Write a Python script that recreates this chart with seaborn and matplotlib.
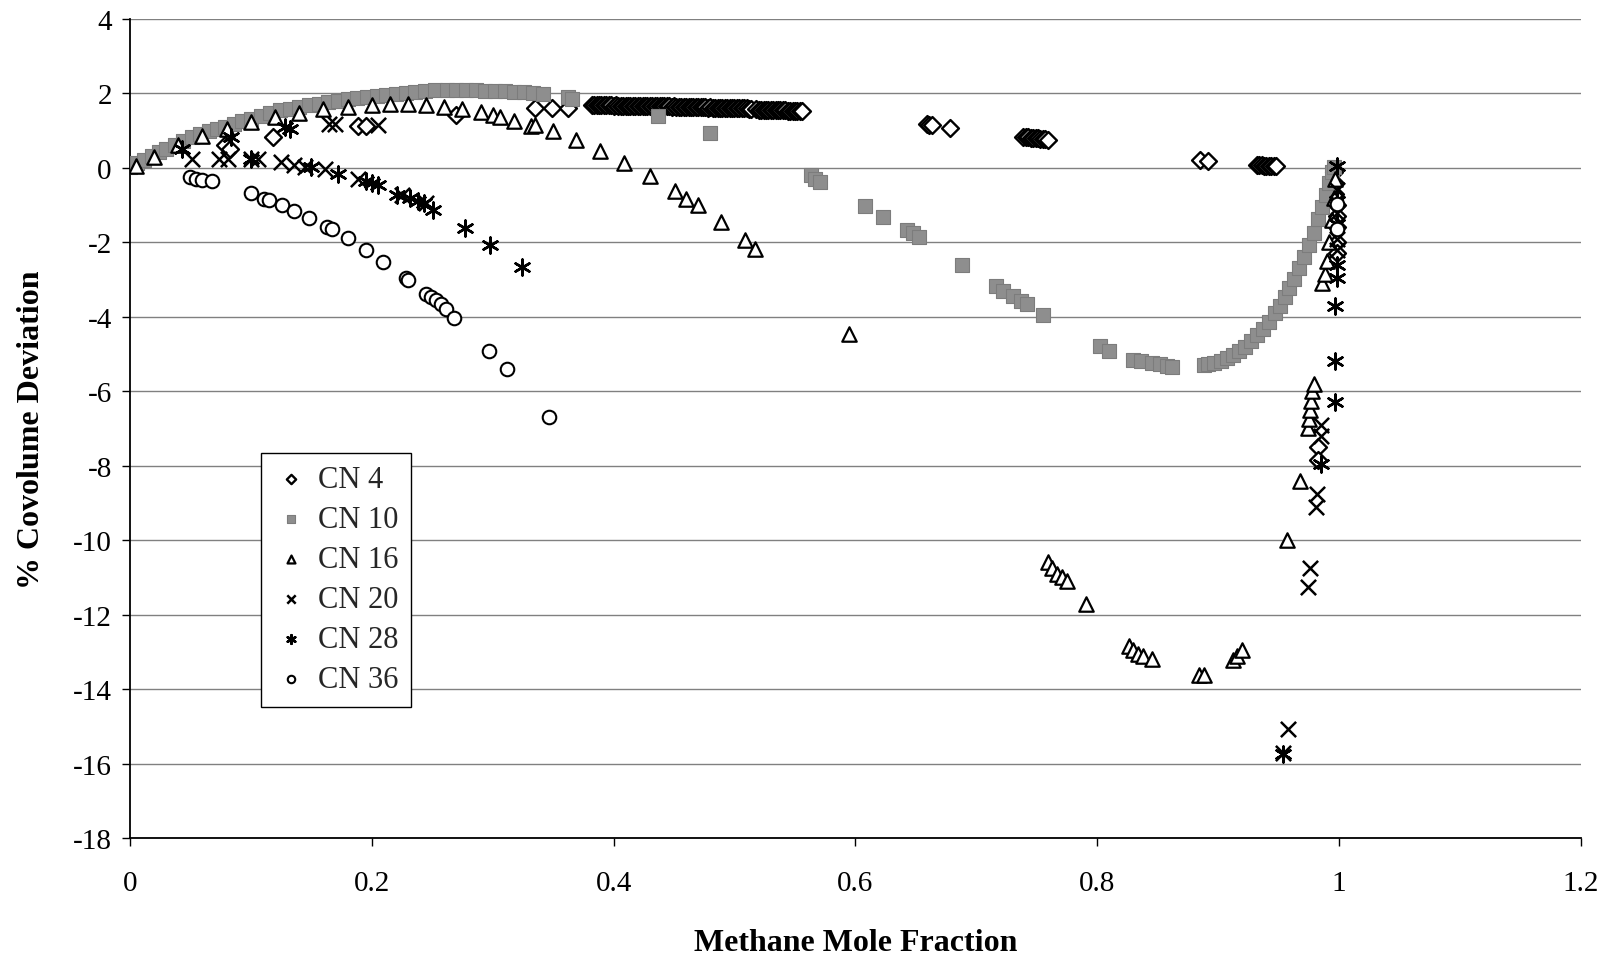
import numpy as np
import pandas as pd
import matplotlib
matplotlib.use("Agg")
import matplotlib.pyplot as plt
import seaborn as sns

# ---- data: methane mole fraction vs % covolume deviation ----
cn4_x = [0.079, 0.083, 0.118, 0.189, 0.195, 0.270, 0.335, 0.349, 0.362,
         0.382, 0.384, 0.386, 0.388, 0.390, 0.392, 0.394, 0.396, 0.398, 0.400,
         0.402, 0.404, 0.406, 0.408, 0.410, 0.412, 0.414, 0.416, 0.418, 0.420,
         0.422, 0.424, 0.426, 0.428, 0.430, 0.432, 0.434, 0.436, 0.438, 0.440,
         0.442, 0.444, 0.446, 0.448, 0.450, 0.452, 0.454, 0.456, 0.458, 0.460,
         0.462, 0.464, 0.466, 0.468, 0.470, 0.472, 0.474, 0.476, 0.478, 0.480,
         0.482, 0.484, 0.486, 0.488, 0.490, 0.492, 0.494, 0.496, 0.498, 0.500,
         0.502, 0.504, 0.506, 0.508, 0.510, 0.512, 0.514,
         0.518, 0.520, 0.522, 0.524, 0.526, 0.528, 0.530, 0.532, 0.534, 0.536,
         0.538, 0.540, 0.542, 0.544, 0.546, 0.548, 0.550, 0.552, 0.554, 0.556,
         0.659, 0.661, 0.663, 0.678,
         0.739, 0.741, 0.743, 0.745, 0.747, 0.749, 0.751, 0.753, 0.755, 0.757, 0.759,
         0.885, 0.892,
         0.932, 0.934, 0.936, 0.938, 0.940, 0.942, 0.944, 0.946, 0.948,
         0.996, 0.997, 0.997, 0.998, 0.998, 0.998, 0.998, 0.998, 0.983, 0.983]
cn4_y = [0.60, 0.50, 0.82, 1.12, 1.12, 1.42, 1.60, 1.62, 1.62,
         1.68, 1.68, 1.68, 1.69, 1.68, 1.68, 1.68, 1.68, 1.68, 1.67,
         1.68, 1.67, 1.67, 1.67, 1.67, 1.67, 1.67, 1.66, 1.67, 1.66,
         1.66, 1.66, 1.66, 1.66, 1.66, 1.65, 1.66, 1.65, 1.65, 1.65,
         1.65, 1.65, 1.65, 1.64, 1.65, 1.64, 1.64, 1.64, 1.64, 1.64,
         1.64, 1.63, 1.64, 1.63, 1.63, 1.63, 1.63, 1.63, 1.62, 1.63,
         1.62, 1.62, 1.62, 1.62, 1.62, 1.61, 1.62, 1.61, 1.61, 1.61,
         1.61, 1.60, 1.61, 1.60, 1.60, 1.59, 1.59,
         1.57, 1.56, 1.56, 1.56, 1.55, 1.55, 1.55, 1.55, 1.54, 1.54,
         1.54, 1.54, 1.54, 1.53, 1.53, 1.53, 1.53, 1.52, 1.52, 1.52,
         1.17, 1.16, 1.15, 1.07,
         0.84, 0.83, 0.82, 0.81, 0.80, 0.80, 0.79, 0.78, 0.77, 0.77, 0.76,
         0.20, 0.19,
         0.08, 0.07, 0.07, 0.06, 0.06, 0.05, 0.05, 0.04, 0.04,
         -0.10, -0.40, -0.70, -1.00, -1.30, -1.60, -2.00, -2.30, -7.50, -7.85]

cn10_x = [0.000, 0.006, 0.012, 0.018, 0.024, 0.030, 0.037, 0.044, 0.051, 0.058,
          0.065, 0.072, 0.079, 0.086, 0.093, 0.100, 0.108, 0.116, 0.124, 0.132,
          0.140, 0.148, 0.156, 0.164, 0.172, 0.180, 0.188, 0.196, 0.204, 0.212,
          0.220, 0.228, 0.236, 0.244, 0.252, 0.262, 0.270, 0.278, 0.286, 0.294,
          0.302, 0.310, 0.318, 0.326, 0.333, 0.342, 0.362, 0.366, 0.437, 0.480,
          0.563, 0.567, 0.571, 0.608, 0.623, 0.643, 0.648, 0.653, 0.688, 0.716,
          0.722, 0.730, 0.737, 0.742, 0.755, 0.802, 0.810, 0.830, 0.836, 0.845,
          0.852, 0.858, 0.862,
          0.888, 0.892, 0.897, 0.902, 0.907, 0.912, 0.917, 0.922, 0.927, 0.932,
          0.937, 0.942, 0.947, 0.951, 0.955, 0.959, 0.963, 0.967, 0.971, 0.975,
          0.979, 0.983, 0.986, 0.989, 0.992, 0.994, 0.996]
cn10_y = [0.02, 0.12, 0.22, 0.32, 0.42, 0.51, 0.62, 0.72, 0.82, 0.90,
          0.98, 1.05, 1.11, 1.18, 1.25, 1.32, 1.40, 1.47, 1.54, 1.59,
          1.64, 1.68, 1.72, 1.76, 1.80, 1.84, 1.88, 1.91, 1.94, 1.96,
          1.99, 2.01, 2.04, 2.06, 2.08, 2.08, 2.08, 2.08, 2.08, 2.07,
          2.07, 2.06, 2.05, 2.04, 2.02, 1.98, 1.90, 1.85, 1.40, 0.93,
          -0.20, -0.30, -0.38, -1.02, -1.31, -1.68, -1.76, -1.85, -2.60, -3.18,
          -3.30, -3.45, -3.58, -3.66, -3.95, -4.78, -4.92, -5.15, -5.20, -5.25,
          -5.28, -5.32, -5.35,
          -5.30, -5.27, -5.24, -5.19, -5.12, -5.03, -4.93, -4.80, -4.66, -4.50,
          -4.33, -4.13, -3.91, -3.70, -3.48, -3.24, -2.98, -2.70, -2.40, -2.08,
          -1.74, -1.38, -1.04, -0.72, -0.40, -0.12, 0.02]

cn16_x = [0.005, 0.020, 0.040, 0.060, 0.080, 0.100, 0.120, 0.140, 0.160, 0.180,
          0.200, 0.215, 0.230, 0.245, 0.260, 0.275, 0.290, 0.300, 0.306, 0.318,
          0.332, 0.335, 0.350, 0.369, 0.389, 0.409, 0.430, 0.451, 0.460, 0.470,
          0.489, 0.509, 0.517, 0.595,
          0.759, 0.763, 0.767, 0.771, 0.775, 0.791, 0.826, 0.830, 0.834, 0.838,
          0.845, 0.884, 0.888, 0.912, 0.916, 0.920, 0.957, 0.968,
          0.974, 0.975, 0.976, 0.977, 0.978, 0.979,
          0.986, 0.988, 0.990, 0.992, 0.994, 0.996, 0.997]
cn16_y = [0.05, 0.30, 0.60, 0.85, 1.05, 1.22, 1.37, 1.48, 1.57, 1.64,
          1.70, 1.72, 1.72, 1.69, 1.64, 1.57, 1.49, 1.42, 1.36, 1.27,
          1.13, 1.15, 0.98, 0.75, 0.46, 0.14, -0.22, -0.62, -0.83, -1.01,
          -1.45, -1.95, -2.17, -4.46,
          -10.60, -10.75, -10.90, -11.00, -11.10, -11.72, -12.85, -12.95, -13.05, -13.10,
          -13.20, -13.62, -13.62, -13.23, -13.10, -12.96, -10.00, -8.41,
          -7.00, -6.75, -6.50, -6.25, -6.00, -5.80,
          -3.10, -2.85, -2.50, -2.00, -1.40, -0.80, -0.30]

cn20_x = [0.051, 0.074, 0.081, 0.100, 0.106, 0.125, 0.136, 0.145, 0.161, 0.189,
          0.225, 0.245, 0.165, 0.170, 0.205,
          0.998, 0.998, 0.998, 0.998, 0.985, 0.985, 0.982, 0.981, 0.976, 0.974,
          0.958, 0.954]
cn20_y = [0.24, 0.25, 0.25, 0.25, 0.25, 0.15, 0.08, 0.02, -0.04, -0.30,
          -0.72, -0.95, 1.18, 1.18, 1.15,
          -0.60, -1.20, -1.90, -2.20, -6.90, -7.20, -8.75, -9.10, -10.75, -11.27,
          -15.06, -15.73]

cn28_x = [0.043, 0.084, 0.100, 0.128, 0.132, 0.150, 0.172, 0.195, 0.200, 0.205,
          0.221, 0.232, 0.238, 0.243, 0.251, 0.277, 0.298, 0.324,
          0.998, 0.998, 0.998, 0.998, 0.998, 0.997, 0.997, 0.997, 0.985, 0.954]
cn28_y = [0.51, 0.82, 0.25, 1.10, 1.04, 0.03, -0.16, -0.35, -0.40, -0.45,
          -0.74, -0.82, -0.88, -0.95, -1.12, -1.61, -2.06, -2.66,
          0.05, -0.90, -1.50, -2.60, -2.95, -3.70, -5.20, -6.30, -7.95, -15.75]

cn36_x = [0.050, 0.055, 0.060, 0.068, 0.100, 0.111, 0.115, 0.126, 0.136, 0.148,
          0.163, 0.167, 0.180, 0.195, 0.209, 0.228, 0.230, 0.245, 0.249, 0.253,
          0.257, 0.261, 0.268, 0.297, 0.312, 0.347, 0.998, 0.998]
cn36_y = [-0.24, -0.29, -0.32, -0.35, -0.67, -0.83, -0.87, -1.00, -1.15, -1.35,
          -1.58, -1.65, -1.89, -2.22, -2.53, -2.97, -3.00, -3.38, -3.47, -3.56,
          -3.67, -3.78, -4.03, -4.91, -5.40, -6.68, -0.97, -1.63]

series_names = ["CN 4", "CN 10", "CN 16", "CN 20", "CN 28", "CN 36"]
x_ticks = [0, 0.2, 0.4, 0.6, 0.8, 1.0, 1.2]
x_tick_labels = ["0", "0.2", "0.4", "0.6", "0.8", "1", "1.2"]
y_ticks = list(range(-18, 5, 2))

# ---- styling ----
sns.set_theme(style="white")
plt.rcParams["font.family"] = ["Liberation Serif", "DejaVu Serif"]
plt.rcParams["axes.unicode_minus"] = False

fig = plt.figure(figsize=(16.1, 9.62), dpi=100)
ax = fig.add_axes([0.0807, 0.1279, 0.9012, 0.8514])

styles = [
    dict(marker="D", s=74, facecolor="white", edgecolor="black", linewidth=1.7),
    dict(marker="s", s=100, facecolor="#8e8e8e", edgecolor="#7c7c7c", linewidth=0.8),
    dict(marker="^", s=108, facecolor="white", edgecolor="black", linewidth=1.6),
    dict(marker="x", s=120, color="black", linewidth=1.8),
    dict(marker=(6, 2, 0), s=130, color="black", linewidth=1.8),
    dict(marker="o", s=95, facecolor="white", edgecolor="black", linewidth=1.5),
]
xs = [cn4_x, cn10_x, cn16_x, cn20_x, cn28_x, cn36_x]
ys = [cn4_y, cn10_y, cn16_y, cn20_y, cn28_y, cn36_y]

for name, x, y, st in zip(series_names, xs, ys, styles):
    df = pd.DataFrame({"x": x, "y": y})
    sns.scatterplot(data=df, x="x", y="y", ax=ax, label=name, zorder=3, **st)

ax.set_xlim(0, 1.2)
ax.set_ylim(-18, 4)
ax.set_xticks(x_ticks)
ax.set_xticklabels(x_tick_labels)
ax.set_yticks(y_ticks)

ax.yaxis.grid(True, color="#808080", linewidth=1.0, zorder=0)
ax.xaxis.grid(False)
ax.set_axisbelow(True)
for side in ["top", "right"]:
    ax.spines[side].set_visible(False)
for side in ["left", "bottom"]:
    ax.spines[side].set_color("black")
    ax.spines[side].set_linewidth(1.3)

ax.tick_params(axis="both", direction="out", length=6, width=1.0, color="black",
               labelsize=21, labelcolor="black", pad=7, bottom=True, left=True)
ax.tick_params(axis="x", pad=17)

ax.set_xlabel("Methane Mole Fraction", fontsize=23, fontweight="bold", color="black")
ax.set_ylabel("% Covolume Deviation", fontsize=23, fontweight="bold", color="black")
ax.xaxis.set_label_coords(0.5, -0.11)
ax.yaxis.set_label_coords(-0.058, 0.5)

leg = ax.legend(loc="upper left", bbox_to_anchor=(0.0903, 0.4705), frameon=True,
                fancybox=False, edgecolor="black", framealpha=1, fontsize=22,
                borderpad=0.42, labelspacing=0.36, handletextpad=0.3,
                handlelength=1.15, borderaxespad=0, markerscale=0.55)
leg.get_frame().set_linewidth(1.0)

fig.savefig("out.png", dpi=100, facecolor="white")
